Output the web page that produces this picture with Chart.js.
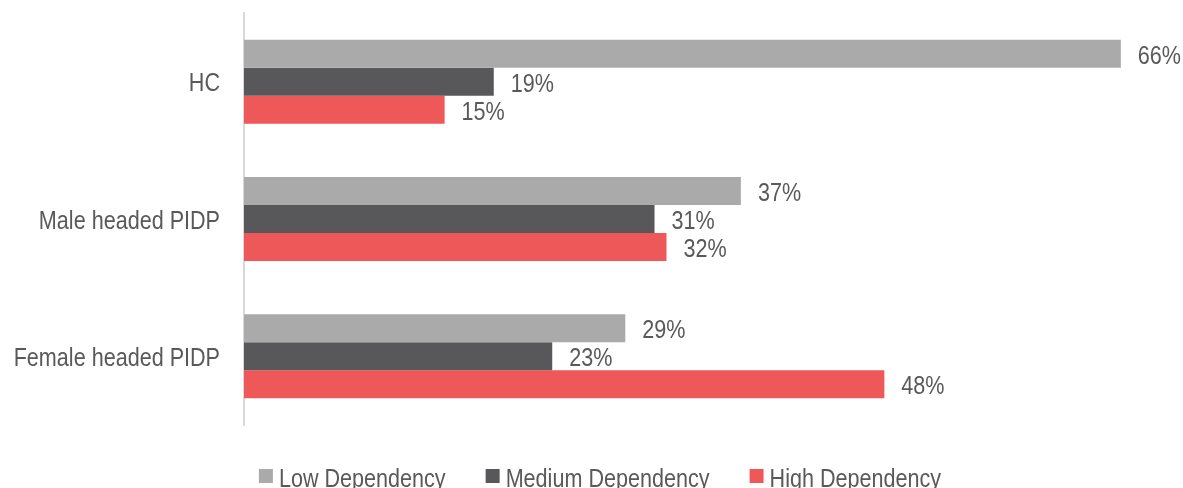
<!DOCTYPE html>
<html lang="en">
  <head>
    <meta charset="UTF-8" />
    <title>Dependency chart</title>
    <script src="https://cdn.jsdelivr.net/npm/chart.js"></script>
    <style>
      html, body { margin: 0; padding: 0; background: #fff; overflow: hidden; }
      #wrap { width: 1183px; height: 488px; }
    </style>
  </head>
  <body>
    <div id="wrap"><canvas id="chart"></canvas></div>
    <script>
      const categories = ["HC", "Male headed PIDP", "Female headed PIDP"];
      const lowDependency = [66, 37.4, 28.7];
      const mediumDependency = [18.8, 30.9, 23.2];
      const highDependency = [15.1, 31.8, 48.2];

      const FONT = "26px 'Liberation Sans', Arial, sans-serif";
      const TEXT = "#595959";
      const SQUEEZE = 0.83; // the original uses a narrow face

      function narrowText(ctx, txt, x, y, align) {
        ctx.save();
        ctx.translate(x, y);
        ctx.scale(SQUEEZE, 1);
        ctx.textAlign = align;
        ctx.fillText(txt, 0, 0);
        ctx.restore();
      }

      // category names, value labels and the legend, all in the narrow look
      const texts = {
        id: "texts",
        afterDraw(chart) {
          const ctx = chart.ctx;
          const yScale = chart.scales.y;
          ctx.save();
          ctx.font = FONT;
          ctx.fillStyle = TEXT;
          ctx.textBaseline = "alphabetic";

          categories.forEach((c, i) => {
            narrowText(ctx, c, chart.chartArea.left - 24, yScale.getPixelForValue(i) + 9.5, "right");
          });

          chart.data.datasets.forEach((ds, i) => {
            chart.getDatasetMeta(i).data.forEach((bar, j) => {
              narrowText(ctx, Math.round(ds.data[j]) + "%", bar.x + 17, bar.y + 10, "left");
            });
          });

          // legend
          const items = chart.data.datasets.map(ds => ({
            label: ds.label,
            color: ds.backgroundColor,
            w: ctx.measureText(ds.label).width * SQUEEZE
          }));
          const box = 14, boxGap = 6, itemGap = 40;
          let total = items.reduce((s, it) => s + box + boxGap + it.w, 0) + itemGap * (items.length - 1);
          let x = 600 - total / 2;
          const base = 487;
          items.forEach(it => {
            ctx.fillStyle = it.color;
            ctx.fillRect(x, 469, box, box);
            ctx.fillStyle = TEXT;
            narrowText(ctx, it.label, x + box + boxGap, base, "left");
            x += box + boxGap + it.w + itemGap;
          });
          ctx.restore();
        }
      };

      new Chart(document.getElementById("chart"), {
        type: "bar",
        data: {
          labels: categories,
          datasets: [
            { label: "Low Dependency", data: lowDependency, backgroundColor: "#aaaaaa" },
            { label: "Medium Dependency", data: mediumDependency, backgroundColor: "#58585a" },
            { label: "High Dependency", data: highDependency, backgroundColor: "#ef5858" }
          ]
        },
        options: {
          indexAxis: "y",
          responsive: true,
          maintainAspectRatio: false,
          animation: false,
          categoryPercentage: 0.612,
          barPercentage: 1,
          layout: { padding: { top: 13, right: 9, left: 0, bottom: 63 } },
          plugins: {
            tooltip: { enabled: false },
            legend: { display: false }
          },
          scales: {
            x: {
              display: false,
              min: 0,
              max: 70
            },
            y: {
              grid: { display: false },
              border: { color: "#d9d9d9", width: 2 },
              ticks: { display: false },
              afterFit(scale) { scale.width = 244; }
            }
          }
        },
        plugins: [texts]
      });
    </script>
  </body>
</html>
